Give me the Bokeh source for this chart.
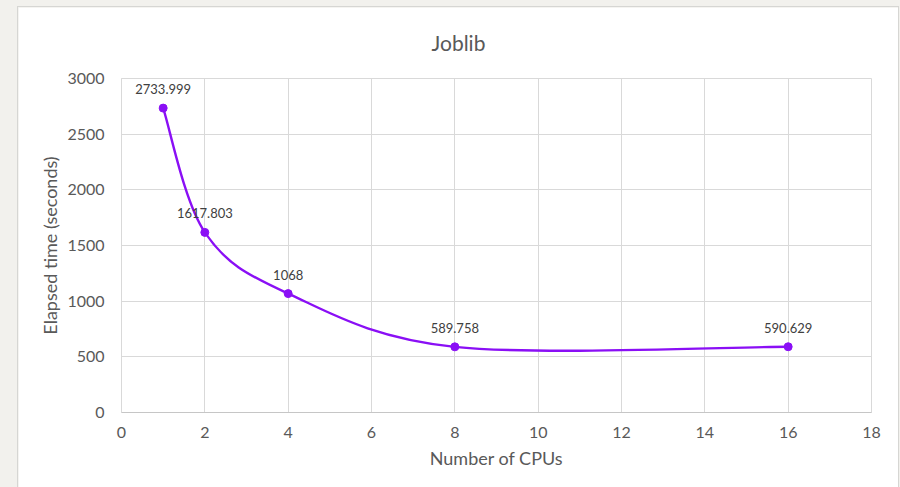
from bokeh.plotting import figure
from bokeh.layouts import column
from bokeh.models import Range1d, FixedTicker, ColumnDataSource
from bokeh.embed import file_html
from bokeh.resources import INLINE

# Joblib timings: elapsed wall time versus number of CPUs
cpus = [1, 2, 4, 8, 16]
elapsed = [2733.999, 1617.803, 1068.0, 589.758, 590.629]
x_ticks = [0, 2, 4, 6, 8, 10, 12, 14, 16, 18]
y_ticks = [0, 500, 1000, 1500, 2000, 2500, 3000]

FONT = "Lato"
TEXT = "#595959"
GRID = "#d9d9d9"
PURPLE = "#8A0FF5"

p = figure(
    width=880, height=480,
    x_range=Range1d(0, 18), y_range=Range1d(0, 3000),
    output_backend="svg", toolbar_location=None,
    min_border_left=103, min_border_right=27,
    min_border_top=63, min_border_bottom=75,
    background_fill_color="white", border_fill_color="white",
)
p.margin = (7, 2, 0, 18)
p.styles = {"box-shadow": "0 0 0 1px #d6d6d3"}

p.title.text = "Joblib"
p.title.align = "left"
p.title.vertical_align = "top"
p.title.text_font = FONT
p.title.text_font_size = "21px"
p.title.text_font_style = "normal"
p.title.text_color = TEXT
p.title.text_line_height = 0.8
p.title.standoff = 44
p.title.offset = 310

p.outline_line_color = GRID
p.outline_line_width = 1

for ax in (p.xaxis[0], p.yaxis[0]):
    ax.major_tick_line_color = None
    ax.minor_tick_line_color = None
    ax.major_tick_out = 0
    ax.major_tick_in = 0
    ax.major_label_text_font = FONT
    ax.major_label_text_font_size = "16px"
    ax.major_label_text_color = TEXT
    ax.axis_label_text_font = FONT
    ax.axis_label_text_font_size = "18px"
    ax.axis_label_text_font_style = "normal"
    ax.axis_label_text_color = TEXT

p.xaxis.ticker = FixedTicker(ticks=x_ticks)
p.yaxis.ticker = FixedTicker(ticks=y_ticks)
p.xaxis.axis_line_color = "#c6c6c6"
p.yaxis.axis_line_color = GRID
p.xaxis.major_label_standoff = 14
p.yaxis.major_label_standoff = 17
p.xaxis.axis_label = "Number of CPUs"
p.yaxis.axis_label = "Elapsed time (seconds)"
p.xaxis.axis_label_standoff = 6
p.yaxis.axis_label_standoff = 3

p.xgrid.ticker = FixedTicker(ticks=x_ticks)
p.ygrid.ticker = FixedTicker(ticks=y_ticks)
p.grid.grid_line_color = GRID
p.grid.grid_line_width = 1

# Smoothed line: cubic Bezier segments with Catmull-Rom control points
n = len(cpus)
xs0, ys0, xs1, ys1, cx0, cy0, cx1, cy1 = [], [], [], [], [], [], [], []
for i in range(n - 1):
    xa, ya = cpus[max(i - 1, 0)], elapsed[max(i - 1, 0)]
    xb, yb = cpus[i], elapsed[i]
    xc, yc = cpus[i + 1], elapsed[i + 1]
    xd, yd = cpus[min(i + 2, n - 1)], elapsed[min(i + 2, n - 1)]
    xs0.append(xb); ys0.append(yb)
    xs1.append(xc); ys1.append(yc)
    cx0.append(xb + (xc - xa) / 6.0); cy0.append(yb + (yc - ya) / 6.0)
    cx1.append(xc - (xd - xb) / 6.0); cy1.append(yc - (yd - yb) / 6.0)

seg = ColumnDataSource(dict(x0=xs0, y0=ys0, x1=xs1, y1=ys1,
                            cx0=cx0, cy0=cy0, cx1=cx1, cy1=cy1))
p.bezier(x0="x0", y0="y0", x1="x1", y1="y1", cx0="cx0", cy0="cy0",
         cx1="cx1", cy1="cy1", source=seg, line_color=PURPLE, line_width=2.4)

labels = [f"{v:.3f}".rstrip("0").rstrip(".") for v in elapsed]
pts = ColumnDataSource(dict(x=cpus, y=elapsed, label=labels))
p.scatter("x", "y", source=pts, size=8, fill_color=PURPLE, line_color=PURPLE)
p.text("x", "y", text="label", source=pts, y_offset=-19,
       text_align="center", text_baseline="middle",
       text_font={"value": FONT}, text_font_size="13px", text_color="#404040")

page = column(p, width=900, height=487,
              styles={"background-color": "#f2f1ed"})

open("out.html", "w").write(file_html(page, INLINE))
